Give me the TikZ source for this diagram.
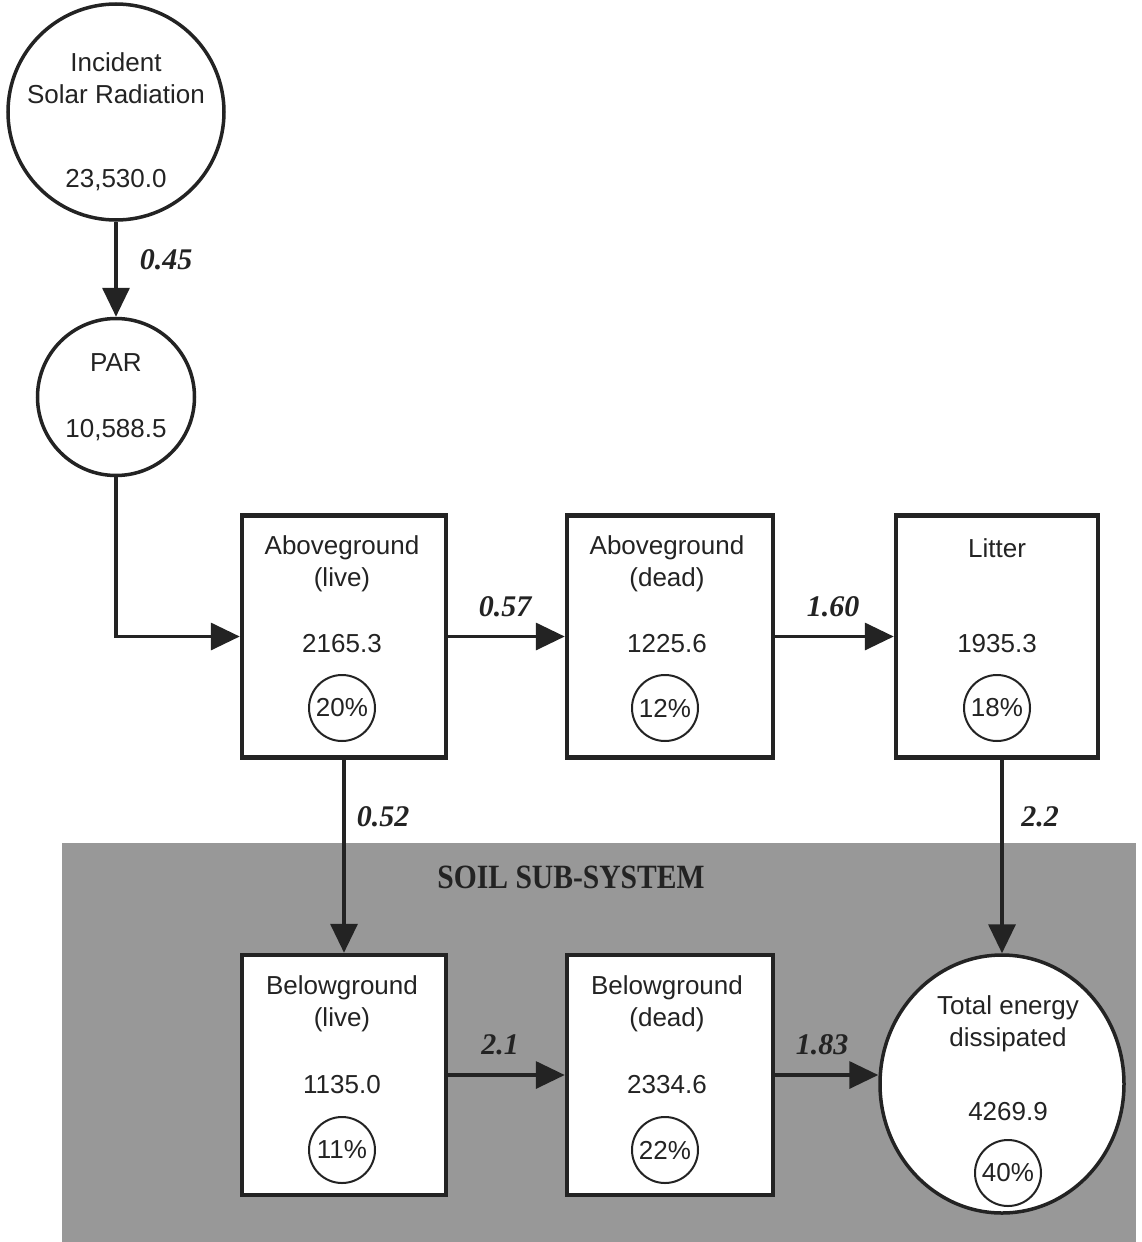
\documentclass[tikz,border=0pt]{standalone}
\usepackage{fontspec}
\setmainfont{Liberation Sans}
\newfontfamily\labelserif{Liberation Serif}
\usetikzlibrary{arrows.meta,shapes.geometric}
\definecolor{ink}{RGB}{35,35,35}
\definecolor{soil}{RGB}{152,152,152}
\begin{document}
\begin{tikzpicture}[x=1pt,y=-1pt,
  every node/.style={text=ink,inner sep=0pt},
  txt/.style={font=\fontsize{26}{32}\selectfont,align=center},
  stockbox/.style={draw=ink,line width=4.5pt,fill=white,minimum width=204pt,minimum height=242pt},
  bigcirc/.style={draw=ink,line width=3.5pt,fill=white,circle},
  pct/.style={draw=ink,line width=2pt,circle,minimum size=66pt,font=\fontsize{26}{32}\selectfont},
  flow/.style={draw=ink,line width=3.5pt,-{Triangle[length=29pt,width=27pt]}},
  rate/.style={font=\fontsize{30}{36}\labelserif\bfseries\itshape}
]
\useasboundingbox (0,0) rectangle (1142,1242);
\fill[white] (0,0) rectangle (1142,1242);

% soil sub-system band
\fill[soil] (62,843) rectangle (1136,1242);
\node[font=\fontsize{34}{40}\labelserif\bfseries,xscale=0.87] (soiltitle) at (571,877) {SOIL SUB-SYSTEM};

% energy sources
\node[bigcirc,minimum size=216pt] (inc) at (116,112) {};
\node[txt] (inc-t) at (116,78) {Incident\\Solar Radiation};
\node[txt] (inc-v) at (116,180) {23,530.0};

\node[bigcirc,minimum size=157pt] (par) at (116,397) {};
\node[txt] (par-t) at (116,363) {PAR};
\node[txt] (par-v) at (116,430) {10,588.5};

% aboveground compartments
\node[stockbox] (agl) at (344,636.5) {};
\node[txt] (agl-t) at (342,564) {Aboveground\\(live)};
\node[txt] (agl-v) at (342,644) {2165.3};
\node[pct] (agl-p) at (342,708) {20\%};

\node[stockbox,minimum width=206pt] (agd) at (670,636.5) {};
\node[txt] (agd-t) at (667,564) {Aboveground\\(dead)};
\node[txt] (agd-v) at (667,644) {1225.6};
\node[pct] (agd-p) at (665,708) {12\%};

\node[stockbox,minimum width=202pt] (lit) at (997,636.5) {};
\node[txt] (lit-t) at (997,548) {Litter};
\node[txt] (lit-v) at (997,644) {1935.3};
\node[pct] (lit-p) at (997,708) {18\%};

% belowground compartments
\node[stockbox,minimum height=240pt] (bgl) at (344,1075) {};
\node[txt] (bgl-t) at (342,1004) {Belowground\\(live)};
\node[txt] (bgl-v) at (342,1085) {1135.0};
\node[pct] (bgl-p) at (342,1150) {11\%};

\node[stockbox,minimum width=206pt,minimum height=240pt] (bgd) at (670,1075) {};
\node[txt] (bgd-t) at (667,1004) {Belowground\\(dead)};
\node[txt] (bgd-v) at (667,1085) {2334.6};
\node[pct] (bgd-p) at (665,1150) {22\%};

% dissipated energy
\node[draw=ink,line width=3.5pt,fill=white,ellipse,minimum width=244pt,minimum height=258pt] (tot) at (1002,1084) {};
\node[txt] (tot-t) at (1008,1024) {Total energy\\dissipated};
\node[txt] (tot-v) at (1008,1112) {4269.9};
\node[pct] (tot-p) at (1008,1173) {40\%};

% energy flows
\draw[flow] (inc.south) -- (par.north);
\node[rate] (r1) at (166,260) {0.45};

\draw[flow] (par.south) |- (agl.west);

\draw[flow] (agl.east) -- (agd.west);
\node[rate] (r2) at (505,607) {0.57};

\draw[flow] (agd.east) -- (lit.west);
\node[rate] (r3) at (833,607) {1.60};

\draw[flow] (agl.south) -- (bgl.north);
\node[rate] (r4) at (383,817) {0.52};

\draw[flow] (lit.south -| tot.north) -- (tot.north);
\node[rate] (r5) at (1040,817) {2.2};

\draw[flow] (bgl.east) -- (bgd.west);
\node[rate] (r6) at (500,1045) {2.1};

\draw[flow] (bgd.east) -- (bgd.east -| tot.west);
\node[rate] (r7) at (822,1045) {1.83};
\end{tikzpicture}
\end{document}
